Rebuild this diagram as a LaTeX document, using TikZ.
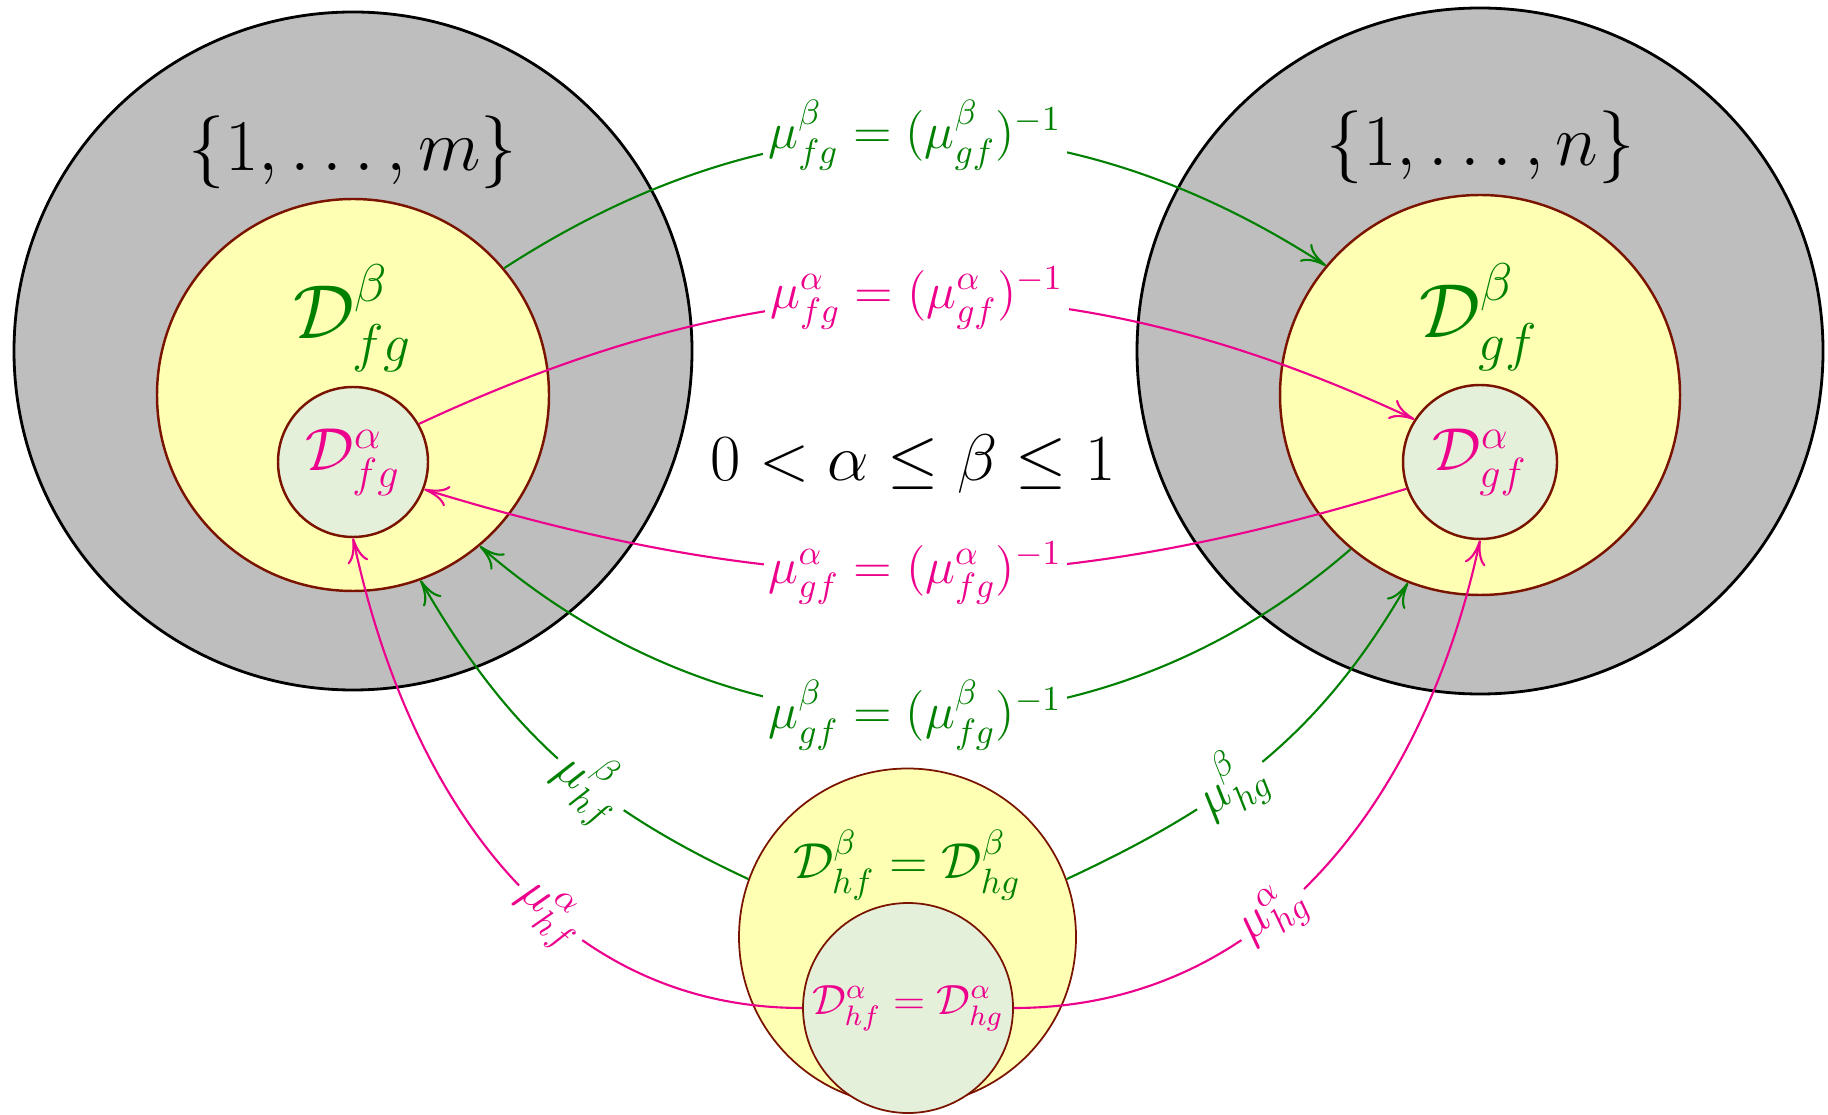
\documentclass[tikz,border=0pt]{standalone}
\usepackage{amsmath}
\usetikzlibrary{arrows.meta}
\definecolor{cgreen}{HTML}{008000}
\definecolor{cmag}{HTML}{EC008C}
\definecolor{cgrey}{HTML}{BEBEBE}
\definecolor{cyel}{HTML}{FFFFB4}
\definecolor{cmint}{HTML}{E4F0DA}
\definecolor{crim}{HTML}{7A1400}
\tikzset{
  every picture/.style={line width=0.55pt},
  setdisc/.style={circle, draw=black, fill=cgrey, line width=0.8pt, inner sep=0pt, minimum size=#1},
  betadisc/.style={circle, draw=crim, fill=cyel, line width=0.7pt, inner sep=0pt, minimum size=#1},
  alphadisc/.style={circle, draw=crim, fill=cmint, line width=0.7pt, inner sep=0pt, minimum size=#1, text=cmag},
  gmap/.style={-{To[length=7pt, width=6pt]}, draw=cgreen, line width=0.6pt},
  mmap/.style={-{To[length=7pt, width=6pt]}, draw=cmag, line width=0.6pt},
  maplabel/.style={fill=white, inner sep=1.5pt, font=\Large},
}
\begin{document}
\begin{tikzpicture}
  \useasboundingbox (0,0) rectangle (18.28,11.14);
  % the two index sets
  \node[setdisc=6.78cm] (lset) at (3.53,7.63) {};
  \node[setdisc=6.86cm] (rset) at (14.80,7.63) {};
  \node[font=\huge] (lsetlab) at (3.53,9.62) {$\{1,\ldots,m\}$};
  \node[font=\huge] (rsetlab) at (14.81,9.67) {$\{1,\ldots,n\}$};
  % beta and alpha level sets
  \node[betadisc=3.92cm] (lbeta) at (3.53,7.19) {};
  \node[betadisc=4.00cm] (rbeta) at (14.80,7.19) {};
  \node[text=cgreen, font=\huge] (lbetalab) at (3.53,7.96) {\scalebox{1.05}{$\mathcal{D}^{\beta}_{fg}$}};
  \node[text=cgreen, font=\huge] (rbetalab) at (14.79,7.97) {\scalebox{1.05}{$\mathcal{D}^{\beta}_{gf}$}};
  \node[alphadisc=1.50cm, font=\LARGE] (lalpha) at (3.53,6.52) {$\mathcal{D}^{\alpha}_{fg}$};
  \node[alphadisc=1.54cm, font=\LARGE] (ralpha) at (14.80,6.52) {$\mathcal{D}^{\alpha}_{gf}$};
  \node[font=\LARGE] (cond) at (9.13,6.50) {\scalebox{1.085}{$0<\alpha\leq\beta\leq1$}};
  % common level sets below
  \node[betadisc=3.37cm, line width=0.5pt] (hbeta) at (9.075,1.77) {};
  \node[text=cgreen, font=\Large] (hbetalab) at (9.07,2.49) {$\mathcal{D}^{\beta}_{hf}=\mathcal{D}^{\beta}_{hg}$};
  \node[alphadisc=2.10cm, line width=0.5pt, font=\large] (halpha) at (9.08,1.06) {$\mathcal{D}^{\alpha}_{hf}=\mathcal{D}^{\alpha}_{hg}$};
  % maps between the level sets
  \draw[gmap] (lbeta.40) to[out=33, in=147] node[maplabel, text=cgreen] {$\mu^{\beta}_{fg}=(\mu^{\beta}_{gf})^{-1}$} (rbeta.140);
  \draw[mmap] (lalpha.30) to[out=25, in=155] node[maplabel, text=cmag] {$\mu^{\alpha}_{fg}=(\mu^{\alpha}_{gf})^{-1}$} (ralpha.147);
  \draw[mmap] (ralpha.200) to[out=197, in=-17] node[maplabel, text=cmag] {$\mu^{\alpha}_{gf}=(\mu^{\alpha}_{fg})^{-1}$} (lalpha.339);
  \draw[gmap] (rbeta.230) to[out=221, in=-41] node[maplabel, text=cgreen] {$\mu^{\beta}_{gf}=(\mu^{\beta}_{fg})^{-1}$} (lbeta.310);
  \draw[gmap] (hbeta.160) to[out=155, in=-60] node[maplabel, text=cgreen, sloped, pos=0.4] {$\mu^{\beta}_{hf}$} (lbeta.290);
  \draw[gmap] (hbeta.20) to[out=25, in=-120] node[maplabel, text=cgreen, sloped, pos=0.4] {$\mu^{\beta}_{hg}$} (rbeta.249);
  \draw[mmap] (halpha.180) to[out=180, in=-78] node[maplabel, text=cmag, sloped, pos=0.4] {$\mu^{\alpha}_{hf}$} (lalpha.270);
  \draw[mmap] (halpha.0) to[out=0, in=-102] node[maplabel, text=cmag, sloped, pos=0.4] {$\mu^{\alpha}_{hg}$} (ralpha.270);
\end{tikzpicture}
\end{document}
